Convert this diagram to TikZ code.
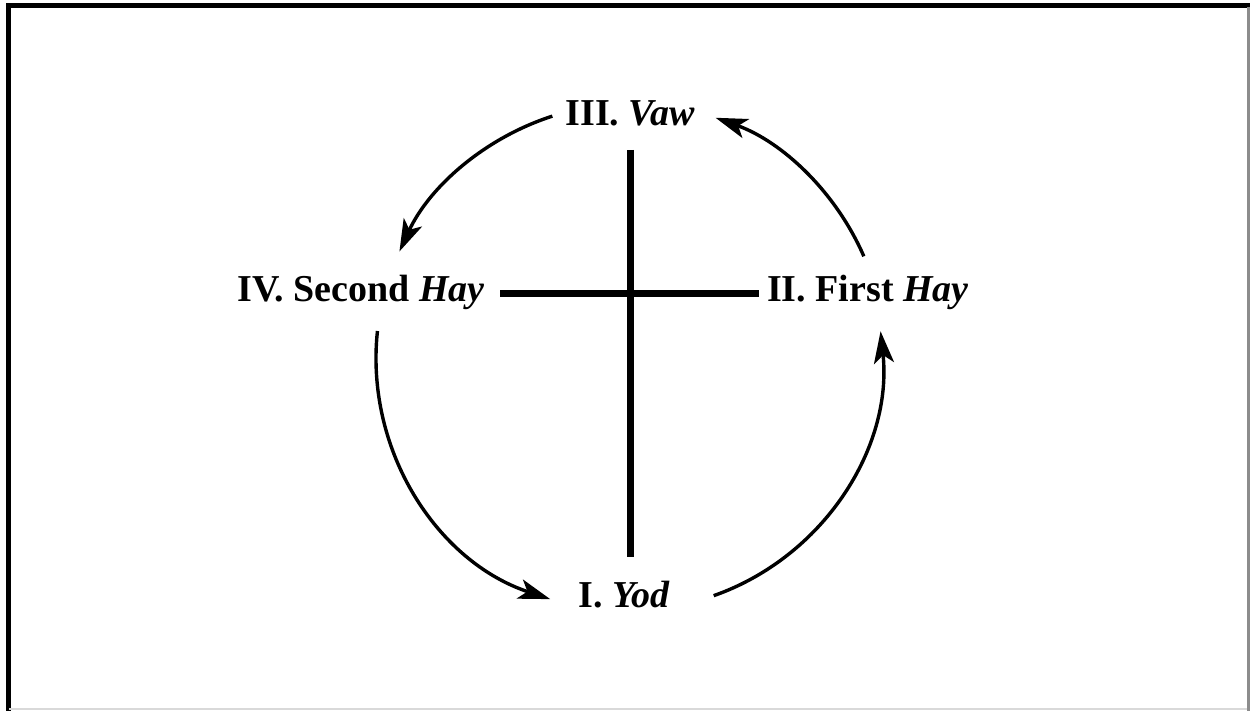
\documentclass[tikz,border=0pt]{standalone}
\usepackage{fontspec}
\setmainfont{Liberation Serif}
\usetikzlibrary{arrows.meta,calc}

\begin{document}
\begin{tikzpicture}[
    x=0.5pt, y=0.5pt,
    letter/.style={anchor=base, inner sep=0pt,
      font=\fontsize{19}{23}\selectfont\bfseries},
    arrow/.style={-{Stealth[length=16pt, width=10pt, inset=4pt]}, line width=1.7pt},
    crossbar/.style={line width=3.5pt},
    ]
    \useasboundingbox (0,0) rectangle (1251,711);
    % frame
    \draw[line width=2.5pt] (8,0) -- (8,705) -- (1250,705);
    \draw[line width=1.5pt, black!45] (1248,704) -- (1248,0);
    \draw[line width=1pt, black!15] (9,2) -- (1247,2);

    \coordinate (c) at (630,353);

    \node[letter] (vaw) at (630,585) {III. \textit{Vaw}};
    \node[letter] (hay2) at (361,409) {IV. Second \textit{Hay}};
    \node[letter] (hay1) at (868,409) {II. First \textit{Hay}};
    \node[letter] (yod) at (624,103) {I. \textit{Yod}};

    % the cross
    \coordinate (crosstop) at (630,561);
    \coordinate (crossbot) at (630,154);
    \coordinate (crossleft) at (500,417);
    \coordinate (crossright) at (759,417);
    \draw[crossbar] (crosstop) -- (crossbot);
    \draw[crossbar] (crossleft) -- (crossright);

    % the circuit
    \coordinate (vawout) at ($(c)+(107.8:254)$);
    \coordinate (hay2out) at ($(c)+(173.9:254)$);
    \coordinate (yodout) at ($(c)+(289.4:252)$);
    \coordinate (hay1out) at ($(c)+(23.5:255)$);
    \draw[arrow] (vawout) arc[start angle=107.8, end angle=155.2, radius=254];
    \draw[arrow] (hay2out) arc[start angle=173.9, end angle=251.7, radius=254];
    \draw[arrow] (yodout) arc[start angle=289.4, end angle=366.1, radius=252];
    \draw[arrow] (hay1out) arc[start angle=23.5, end angle=70.4, radius=255];
\end{tikzpicture}
\end{document}
